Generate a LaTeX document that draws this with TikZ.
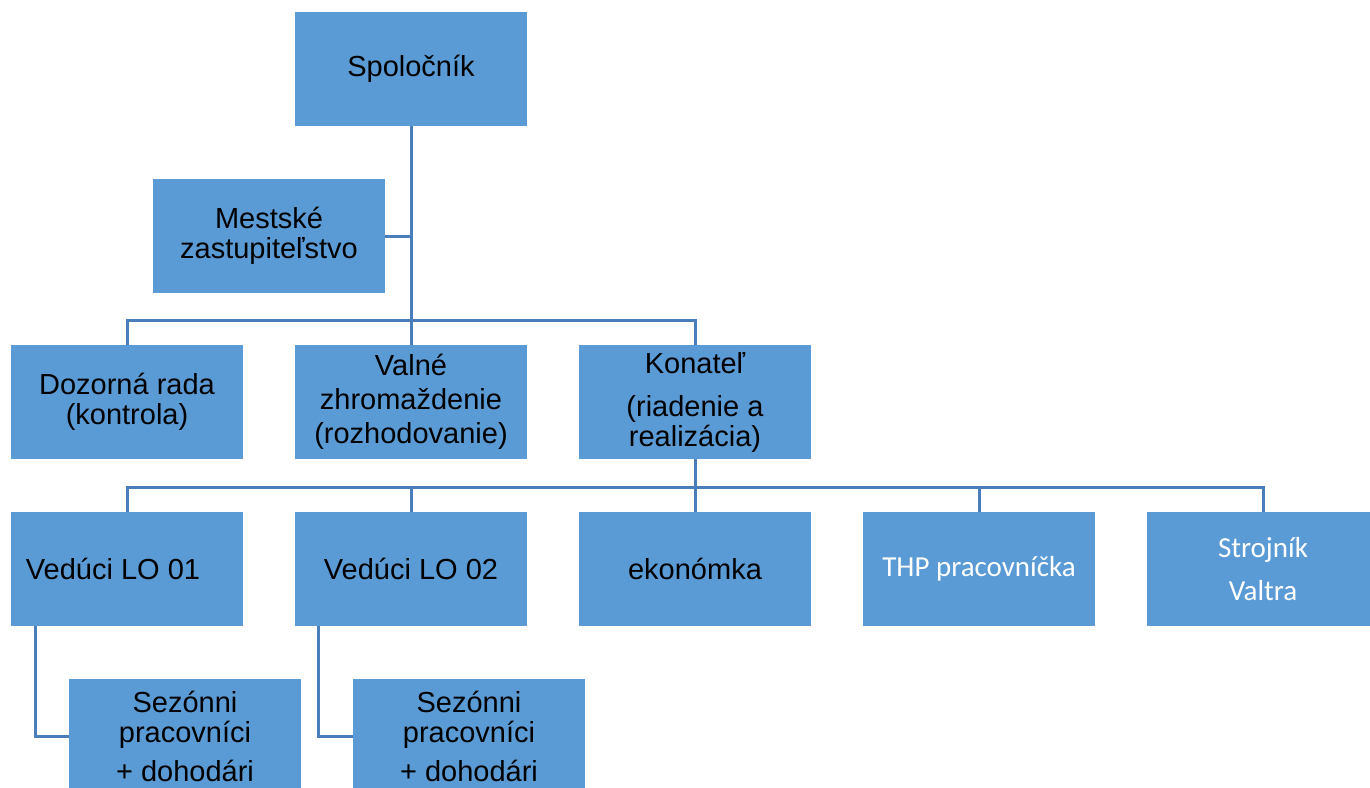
\documentclass[tikz,border=0pt]{standalone}
\usepackage{fontspec}
\setmainfont{Liberation Sans}
\newfontfamily\calfont{Carlito}
\definecolor{boxblue}{HTML}{5B9BD5}
\definecolor{linkblue}{HTML}{4A7EBB}
\begin{document}
\begin{tikzpicture}[x=0.5pt,y=-0.5pt,
  orgbox/.style={fill=boxblue, draw=none, minimum width=116pt, minimum height=57pt,
    inner sep=0pt, align=center, text=black,
    font=\fontsize{14.5}{15}\selectfont},
  whitebox/.style={orgbox, text=white, font=\calfont\fontsize{14.5}{15}\selectfont},
  conn/.style={draw=linkblue, line width=1.5pt}]
\useasboundingbox (0,0) rectangle (1370,787);
\fill[white] (0,0) rectangle (1370,787);
% boxes
\node[orgbox] (sp) at (411,69) {Spoločník};
\node[orgbox] (me) at (269,236) {Mestské\\zastupiteľstvo};
\node[orgbox] (dz) at (127,402) {Dozorná rada\\(kontrola)};
\node[orgbox] (va) at (411,402) {Valné\\[2pt]zhromaždenie\\[2pt](rozhodovanie)};
\node[orgbox] (ko) at (695,402) {Konateľ\\[6.5pt](riadenie a\\realizácia)};
\node[orgbox] (l1) at (127,569) {Vedúci LO 01\hspace*{14pt}};
\node[orgbox] (l2) at (411,569) {Vedúci LO 02};
\node[orgbox] (ek) at (695,569) {ekonómka};
\node[whitebox] (thp) at (979,569) {THP pracovníčka};
\node[whitebox] (st) at (1263,569) {Strojník\\[6.5pt]Valtra};
\node[orgbox] (s1) at (185,736) {Sezónni\\pracovníci\\[4.5pt]+ dohodári};
\node[orgbox] (s2) at (469,736) {Sezónni\\pracovníci\\[4.5pt]+ dohodári};
% bus coordinates
\coordinate (bA) at (0,320);
\coordinate (bB) at (0,487);
\coordinate (c1) at (35,736);
\coordinate (c2) at (318,736);
% connectors
\draw[conn] (sp.south) -- (va.north);
\draw[conn] (me.east) -- (me.east -| sp.south);
\draw[conn] (dz.north) -- (dz.north |- bA) -- (ko.north |- bA) -- (ko.north);
\draw[conn] (ko.south) -- (ko.south |- bB);
\draw[conn] (l1.north) -- (l1.north |- bB) -- (st.north |- bB) -- (st.north);
\draw[conn] (l2.north) -- (l2.north |- bB);
\draw[conn] (ek.north) -- (ek.north |- bB);
\draw[conn] (thp.north) -- (thp.north |- bB);
\draw[conn] (c1 |- l1.south) -- (c1) -- (s1.west);
\draw[conn] (c2 |- l2.south) -- (c2) -- (s2.west);
\end{tikzpicture}
\end{document}
